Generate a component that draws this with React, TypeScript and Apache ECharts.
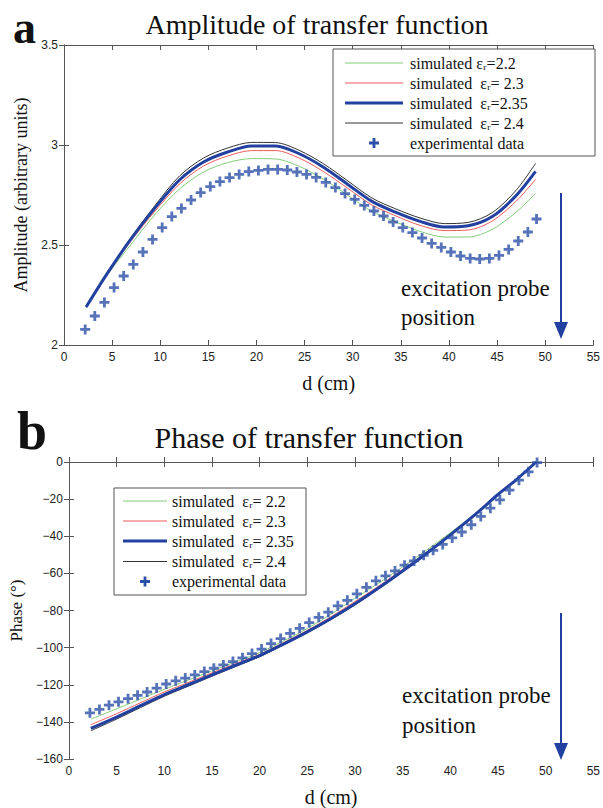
import React, { useEffect, useRef } from "react";
import * as echarts from "echarts";

// ---------- axes ----------
const X_MIN = 0;
const X_MAX = 55;

// ---------- data: amplitude (panel a) ----------
const EXP_X = [
  2.2, 3.2, 4.2, 5.2, 6.2, 7.2, 8.2, 9.2, 10.2, 11.2, 12.2, 13.2, 14.2, 15.2, 16.2, 17.2,
  18.2, 19.2, 20.2, 21.2, 22.2, 23.2, 24.2, 25.2, 26.2, 27.2, 28.2, 29.2, 30.2, 31.2, 32.2,
  33.2, 34.2, 35.2, 36.2, 37.2, 38.2, 39.2, 40.2, 41.2, 42.2, 43.2, 44.2, 45.2, 46.2, 47.2,
  48.2, 49.1,
];
const AMP_EXP = [
  2.078, 2.145, 2.213, 2.287, 2.345, 2.403, 2.465, 2.528, 2.587, 2.642, 2.683, 2.725, 2.762,
  2.792, 2.817, 2.837, 2.853, 2.867, 2.873, 2.878, 2.878, 2.875, 2.865, 2.853, 2.838, 2.813,
  2.787, 2.757, 2.728, 2.698, 2.67, 2.645, 2.615, 2.587, 2.562, 2.535, 2.508, 2.488, 2.465,
  2.445, 2.433, 2.43, 2.433, 2.448, 2.478, 2.52, 2.565, 2.63,
];
const AMP_SIM_X = [2.3, 4.5, 7, 9.5, 12, 14.5, 17, 19.5, 22, 24.5, 27, 29.5, 32, 34.5, 37, 39.5, 42, 44.5, 47, 49];
const AMP_22 = [2.185, 2.35, 2.505, 2.655, 2.78, 2.865, 2.912, 2.932, 2.93, 2.892, 2.828, 2.748, 2.668, 2.615, 2.568, 2.54, 2.54, 2.578, 2.665, 2.758];
const AMP_23 = [2.19, 2.355, 2.523, 2.672, 2.805, 2.895, 2.945, 2.972, 2.972, 2.933, 2.866, 2.783, 2.7, 2.645, 2.598, 2.572, 2.575, 2.62, 2.72, 2.828];
const AMP_235 = [2.19, 2.358, 2.533, 2.688, 2.825, 2.915, 2.965, 2.995, 2.995, 2.955, 2.888, 2.803, 2.718, 2.663, 2.618, 2.59, 2.596, 2.642, 2.748, 2.868];
const AMP_24 = [2.19, 2.36, 2.54, 2.7, 2.845, 2.935, 2.985, 3.013, 3.012, 2.972, 2.905, 2.82, 2.735, 2.68, 2.635, 2.607, 2.613, 2.662, 2.775, 2.908];

// ---------- data: phase (panel b) ----------
const PHASE_EXP = [
  -135.1, -133.3, -131.0, -129.2, -127.5, -125.7, -123.9, -121.8, -119.6, -117.9, -116.4,
  -114.7, -112.9, -111.1, -109.3, -107.5, -105.5, -103.2, -100.8, -97.8, -95.1, -92.3, -89.6,
  -86.5, -83.7, -80.9, -77.5, -74.5, -71.0, -67.5, -64.0, -61.3, -58.7, -55.6, -53.3, -50.3,
  -47.6, -44.4, -40.9, -37.7, -33.8, -29.3, -24.9, -20.4, -15.1, -9.8, -5.3, -0.3,
];
const PH_SIM_X = [2.3, 5, 7.5, 10, 12.5, 15, 17.5, 20, 22.5, 25, 27.5, 30, 32.5, 35, 37.5, 40, 42.5, 45, 47, 49];
const PH_22 = [-138.5, -133.0, -127.7, -122.5, -117.5, -112.5, -107.6, -102.7, -96.4, -89.7, -81.9, -73.4, -65.2, -56.5, -47.5, -38.1, -28.2, -17.3, -9.1, 0];
const PH_23 = [-141.5, -135.6, -129.7, -123.9, -118.8, -113.6, -108.6, -103.6, -97.3, -90.7, -83.3, -75.2, -66.8, -57.8, -48.6, -38.8, -28.5, -17.4, -9.1, 0];
const PH_235 = [-143.5, -137.4, -131.3, -125.3, -120.0, -114.7, -109.5, -104.3, -98.1, -91.5, -84.3, -76.4, -67.8, -58.7, -49.3, -39.3, -28.8, -17.5, -9.2, 0];
const PH_24 = [-144.8, -138.5, -132.3, -126.2, -120.8, -115.4, -110.1, -104.9, -98.6, -92.0, -84.8, -77.0, -68.3, -59.2, -49.7, -39.6, -29.0, -17.6, -9.2, 0];

const LEGEND_A = ["simulated εᵣ=2.2", "simulated  εᵣ= 2.3", "simulated  εᵣ=2.35", "simulated  εᵣ= 2.4", "experimental data"];
const LEGEND_B = ["simulated  εᵣ= 2.2", "simulated  εᵣ= 2.3", "simulated  εᵣ= 2.35", "simulated  εᵣ= 2.4", "experimental data"];

const C_GREEN = "#84cc78";
const C_RED = "#ee5b5b";
const C_BLUE = "#2240a0";
const C_BLACK = "#333333";
const C_CROSS = "#2c4fa8";
const SERIF = '"Liberation Serif", "Times New Roman", serif';
const SANS = '"Liberation Sans", Arial, sans-serif';
const PLUS = "path://M36,0H64V36H100V64H64V100H36V64H0V36H36Z";

const zip = (xs: number[], ys: number[]) => ys.map((y, i) => [xs[i], y]);

export default function App() {
  const ref = useRef<HTMLDivElement>(null);
  useEffect(() => {
    document.body.style.margin = "0";
    const chart = echarts.init(ref.current!, null, { renderer: "svg" });

    const grids = [
      { left: 64, top: 45, width: 533, height: 300 },
      { left: 64, top: 462, width: 533, height: 300 },
    ];
    const axisLine = { show: true, lineStyle: { color: "#555", width: 1 } };
    const tickIn = { show: true, inside: true, length: 5, lineStyle: { color: "#555" } };
    const labelStyle = { color: "#222", fontFamily: SANS, fontSize: 12 };

    const xAxis: any[] = [];
    const yAxis: any[] = [];
    [0, 1].forEach((g) => {
      xAxis.push({
        type: "value", gridIndex: g, min: X_MIN, max: X_MAX, interval: 5,
        position: "bottom", axisLine, axisTick: tickIn, splitLine: { show: false },
        axisLabel: { ...labelStyle, margin: 6 },
        name: "d (cm)", nameLocation: "middle", nameGap: 28,
        nameTextStyle: { fontFamily: SERIF, fontSize: 20, color: "#111" },
      });
      xAxis.push({
        type: "value", gridIndex: g, min: X_MIN, max: X_MAX, interval: 5,
        position: "top", axisLine, axisTick: tickIn, splitLine: { show: false },
        axisLabel: { show: false },
      });
    });
    yAxis.push({
      type: "value", gridIndex: 0, min: 2, max: 3.5, interval: 0.5, position: "left",
      axisLine, axisTick: tickIn, splitLine: { show: false },
      axisLabel: { ...labelStyle, margin: 6 },
      name: "Amplitude (arbitrary units)", nameLocation: "middle", nameGap: 33,
      nameTextStyle: { fontFamily: SERIF, fontSize: 18, color: "#111" },
    });
    yAxis.push({
      type: "value", gridIndex: 0, min: 2, max: 3.5, interval: 0.5, position: "right",
      axisLine, axisTick: tickIn, splitLine: { show: false }, axisLabel: { show: false },
    });
    yAxis.push({
      type: "value", gridIndex: 1, min: -160, max: 0, interval: 20, position: "left",
      axisLine, axisTick: tickIn, splitLine: { show: false },
      axisLabel: { ...labelStyle, margin: 6, formatter: (v: number) => (v < 0 ? "\u2212" + Math.abs(v) : String(v)) },
      name: "Phase (°)", nameLocation: "middle", nameGap: 33,
      nameTextStyle: { fontFamily: SERIF, fontSize: 17, color: "#111" },
    });
    yAxis.push({
      type: "value", gridIndex: 1, min: -160, max: 0, interval: 20, position: "right",
      axisLine, axisTick: tickIn, splitLine: { show: false }, axisLabel: { show: false },
    });

    const line = (name: string, xs: number[], ys: number[], color: string, width: number, xi: number, yi: number) => ({
      name, type: "line", xAxisIndex: xi, yAxisIndex: yi, data: zip(xs, ys), smooth: 0.3,
      showSymbol: false, symbol: "none", lineStyle: { color, width }, z: width > 2 ? 3 : 2,
    });
    const crosses = (ys: number[], xi: number, yi: number) => ({
      name: "experimental data", type: "scatter", xAxisIndex: xi, yAxisIndex: yi,
      data: zip(EXP_X, ys), symbol: PLUS, symbolSize: 10, itemStyle: { color: C_CROSS }, z: 5,
    });

    const series = [
      line(LEGEND_A[0], AMP_SIM_X, AMP_22, C_GREEN, 1, 0, 0),
      line(LEGEND_A[1], AMP_SIM_X, AMP_23, C_RED, 1, 0, 0),
      line(LEGEND_A[2], AMP_SIM_X, AMP_235, C_BLUE, 3, 0, 0),
      line(LEGEND_A[3], AMP_SIM_X, AMP_24, C_BLACK, 1, 0, 0),
      crosses(AMP_EXP, 0, 0),
      line(LEGEND_B[0], PH_SIM_X, PH_22, C_GREEN, 1, 2, 2),
      line(LEGEND_B[1], PH_SIM_X, PH_23, C_RED, 1, 2, 2),
      line(LEGEND_B[2], PH_SIM_X, PH_235, C_BLUE, 3, 2, 2),
      line(LEGEND_B[3], PH_SIM_X, PH_24, C_BLACK, 1, 2, 2),
      crosses(PHASE_EXP, 2, 2),
    ];

    const plusPts = (cx: number, cy: number, r: number) => {
      const t = r * 0.28;
      return [
        [cx - t, cy - r], [cx + t, cy - r], [cx + t, cy - t], [cx + r, cy - t], [cx + r, cy + t], [cx + t, cy + t],
        [cx + t, cy + r], [cx - t, cy + r], [cx - t, cy + t], [cx - r, cy + t], [cx - r, cy - t], [cx - t, cy - t],
      ];
    };
    const legendBox = (x: number, y: number, w: number, h: number, rows: number[], lx0: number, lx1: number, tx: number, texts: string[]) => {
      const colors = [C_GREEN, C_RED, C_BLUE, C_BLACK];
      const widths = [1, 1, 3, 1];
      const els: any[] = [
        { type: "rect", shape: { x, y, width: w, height: h }, style: { fill: "#fff", stroke: "#555", lineWidth: 1 }, z: 10 },
      ];
      rows.forEach((ry, i) => {
        if (i < 4) {
          els.push({ type: "line", shape: { x1: lx0, y1: ry, x2: lx1, y2: ry }, style: { stroke: colors[i], lineWidth: widths[i] }, z: 11 });
        } else {
          els.push({ type: "polygon", shape: { points: plusPts((lx0 + lx1) / 2, ry, 5) }, style: { fill: C_CROSS }, z: 11 });
        }
        els.push({ type: "text", x: tx, y: ry, style: { text: texts[i], fill: "#111", font: `16px ${SERIF}`, align: "left", verticalAlign: "middle" }, z: 11 });
      });
      return els;
    };
    const arrow = (x: number, y0: number, y1: number) => [
      { type: "line", shape: { x1: x, y1: y0, x2: x, y2: y1 - 14 }, style: { stroke: C_BLUE, lineWidth: 2 }, z: 12 },
      { type: "polygon", shape: { points: [[x - 7, y1 - 17], [x + 7, y1 - 17], [x, y1]] }, style: { fill: C_BLUE }, z: 12 },
    ];
    const txt = (text: string, x: number, y: number, font: string, align = "left") => ({
      type: "text", x, y, style: { text, fill: "#111", font, align, verticalAlign: "middle" }, z: 12,
    });

    const graphic = [
      txt("a", 13, 27, `bold 46px ${SERIF}`),
      txt("Amplitude of transfer function", 317, 24, `28px ${SERIF}`, "center"),
      txt("b", 17, 431, `bold 54px ${SERIF}`),
      txt("Phase of transfer function", 309, 437.5, `30px ${SERIF}`, "center"),
      ...legendBox(333, 49, 262, 107, [63, 83, 103, 123, 143], 345, 403, 410, LEGEND_A),
      ...legendBox(114, 488, 192, 107, [501, 521, 541, 561.5, 581.5], 123, 167, 172, LEGEND_B),
      txt("excitation probe", 401, 288, `23px ${SERIF}`),
      txt("position", 401, 317, `23px ${SERIF}`),
      ...arrow(561, 193, 339),
      txt("excitation probe", 402, 695, `23px ${SERIF}`),
      txt("position", 402, 725, `23px ${SERIF}`),
      ...arrow(561, 613, 760),
    ];

    chart.setOption({
      animation: false,
      backgroundColor: "#fff",
      grid: grids,
      xAxis,
      yAxis,
      series,
      graphic,
    });
    return () => chart.dispose();
  }, []);
  return <div ref={ref} style={{ width: 603, height: 808 }} />;
}
